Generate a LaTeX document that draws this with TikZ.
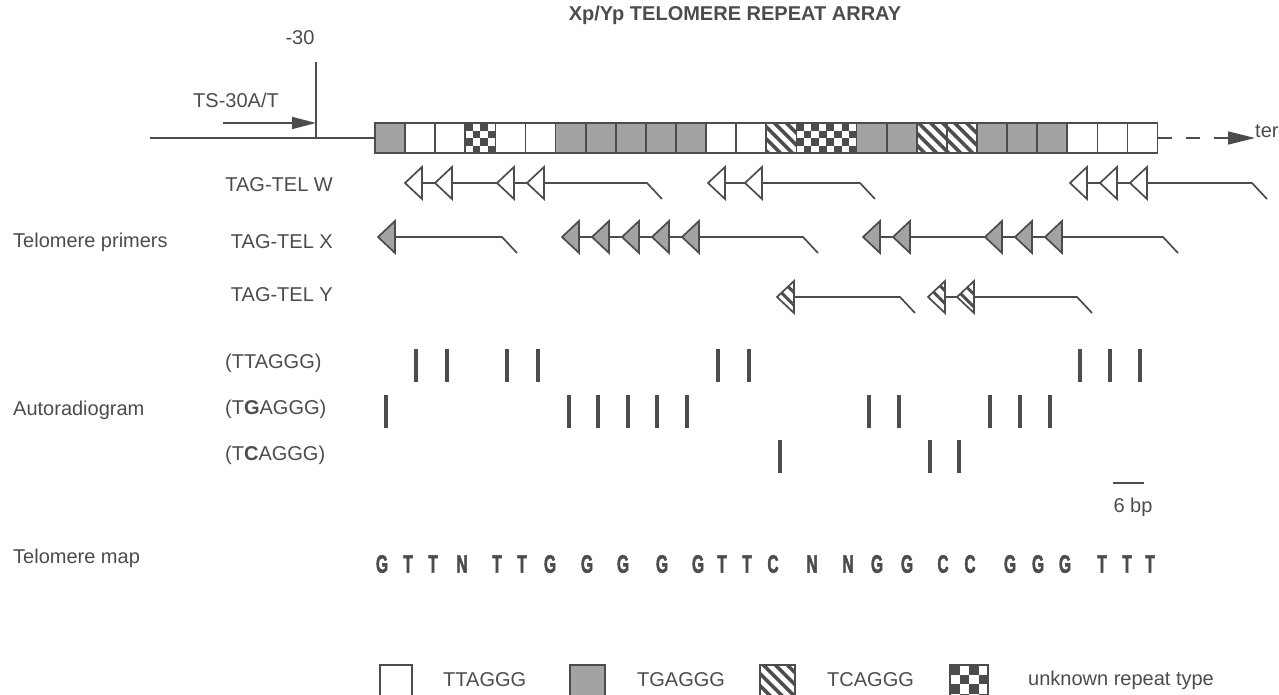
\documentclass[tikz,border=0pt]{standalone}
\usepackage{fontspec}
\setmainfont{Liberation Sans}
\newfontfamily\mapfont[FakeBold=2.5]{Liberation Sans Bold}
\usepackage{graphicx}
\usetikzlibrary{arrows.meta, patterns.meta}
\definecolor{ink}{gray}{0.3}
\definecolor{stip}{gray}{0.64}

% 4x4 checker for the unknown repeats: x, y, cell
\newcommand{\chk}[3]{%
  \foreach \u in {0,...,3}{\foreach \v in {0,...,3}{%
    \ifodd\numexpr\u+\v\relax\else
      \fill[ink] ({#1+\u*#3},{#2+\v*#3}) rectangle ++(#3,#3);\fi}}}

% one primer: y, first tip, end of tail, tips, style
\newcommand{\primer}[5]{%
  \draw[pline] (#2,#1) -- (#3,#1) -- ++(15,16);
  \foreach \p in {#4}{\draw[#5] (\p,#1) -- ++(17,-16) -- ++(0,32) -- cycle;}}

\begin{document}
\begin{tikzpicture}[x=1pt, y=-1pt,
  lbl/.style={text=ink, inner sep=0pt, font=\fontsize{20}{24}\selectfont},
  mapl/.style={text=ink, inner sep=0pt, font=\fontsize{25}{25}\mapfont\bfseries},
  pline/.style={ink, line width=1.7pt},
  bar/.style={ink, line width=3.5pt},
  rep T/.style={pline, fill=white},
  rep N/.style={pline, fill=white},
  rep G/.style={pline, fill=stip},
  rep C/.style={pline, preaction={fill=white},
    pattern={Lines[angle=-45,distance=8.5pt,line width=3.6pt]}, pattern color=ink},
  triW/.style={pline, fill=white},
  triX/.style={pline, fill=stip},
  triY/.style={pline, preaction={fill=white},
    pattern={Lines[angle=-45,distance=9pt,line width=3pt]}, pattern color=ink}]
  \useasboundingbox (0,0) rectangle (1279,695);
  \clip (0,0) rectangle (1279,695);

  % title, start site
  \node[lbl, font=\fontsize{20}{24}\selectfont\bfseries] (title) at (735,15) {Xp/Yp TELOMERE REPEAT ARRAY};
  \node[lbl] (m30) at (300,38) {-30};
  \node[lbl] (ts) at (236,100) {TS-30A/T};
  \coordinate (tick) at (316,62);
  \coordinate (tickfoot) at (316,138);
  \coordinate (tsstart) at (223,123);
  \coordinate (tstip) at (316,123);
  \draw[pline] (tick) -- (tickfoot);
  \draw[pline, -{Triangle[length=24pt,width=12pt]}] (tsstart) -- (tstip);

  % repeat array
  \coordinate (flank) at (150,138);
  \coordinate (arr0) at (375,138);
  \coordinate (arrend) at (1157.6,138);
  \draw[pline] (flank) -- (arr0);
  \foreach \t [count=\i from 0] in {G,T,T,N,T,T,G,G,G,G,G,T,T,C,N,N,G,G,C,C,G,G,G,T,T,T}
    \draw[rep \t] ({375+30.1*\i},123) rectangle ++(30.1,30);
  \foreach \k in {3,14,15}{\pgfmathsetmacro\cx{375+30.1*\k}\chk{\cx}{123}{7.525}}
  \node[lbl, anchor=west] (ter) at (1255,131) {ter};
  \draw[pline, dash pattern=on 14pt off 14pt, -{Triangle[length=27pt,width=13pt]}] (arrend) -- (ter.west |- arrend);

  % primers
  \node[lbl, anchor=west] (prim) at (13,242) {Telomere primers};
  \node[lbl, anchor=east] (tagw) at (333,185) {TAG-TEL W};
  \node[lbl, anchor=east] (tagx) at (333,242) {TAG-TEL X};
  \node[lbl, anchor=east] (tagy) at (333,295) {TAG-TEL Y};
  \primer{183}{405}{647}{405,435,497,527}{triW}
  \primer{183}{708}{860}{708,745}{triW}
  \primer{183}{1070}{1252}{1070,1100,1130}{triW}
  \primer{237}{378}{502}{378}{triX}
  \primer{237}{562}{803}{562,592,622,652,682}{triX}
  \primer{237}{863}{1163}{863,893,985,1015,1045}{triX}
  \primer{297}{777}{900}{777}{triY}
  \primer{297}{928}{1077}{928,957}{triY}

  % autoradiogram
  \node[lbl, anchor=west] (autorad) at (13,410) {Autoradiogram};
  \node[lbl, anchor=west] (tt) at (225,363) {(TTAGGG)};
  \node[lbl, anchor=west] (tg) at (225,409) {(T\textbf{G}AGGG)};
  \node[lbl, anchor=west] (tc) at (225,455) {(T\textbf{C}AGGG)};
  \foreach \x in {416,447,507,538,718,749,1080,1110,1140} \draw[bar] (\x,349) -- (\x,382);
  \foreach \x in {386,569,598,628,657,687,869,899,990,1020,1050} \draw[bar] (\x,395) -- (\x,428);
  \foreach \x in {780,930,959} \draw[bar] (\x,440) -- (\x,473);
  \coordinate (sb0) at (1113,483);
  \coordinate (sb1) at (1144,483);
  \draw[pline] (sb0) -- (sb1);
  \node[lbl] (sbl) at (1133,507) {6 bp};

  % telomere map
  \node[lbl, anchor=west] (tmap) at (13,558) {Telomere map};
  \foreach \x/\s [count=\n] in {382/G,408/T,433/T,462/N,497/T,522/T,550/G,587/G,623/G,662/G,698/G,722/T,747/T,773/C,812/N,848/N,877/G,907/G,943/C,970/C,1010/G,1038/G,1065/G,1102/T,1127/T,1150/T}
    \node[mapl] (map\n) at (\x,564) {\scalebox{0.62}[1]{\s}};

  % legend
  \draw[rep T] (380,665) rectangle (412,700);
  \node[lbl, anchor=west] (legt) at (443,680) {TTAGGG};
  \draw[rep G] (570,665) rectangle (605,700);
  \node[lbl, anchor=west] (legg) at (637,680) {TGAGGG};
  \draw[rep C] (760,665) rectangle (795,700);
  \node[lbl, anchor=west] (legc) at (827,680) {TCAGGG};
  \draw[rep N] (950,665) rectangle (988,700);
  \chk{950}{665}{9.5}
  \node[lbl, anchor=west] (legn) at (1028,680) {unknown repeat type};
\end{tikzpicture}
\end{document}
